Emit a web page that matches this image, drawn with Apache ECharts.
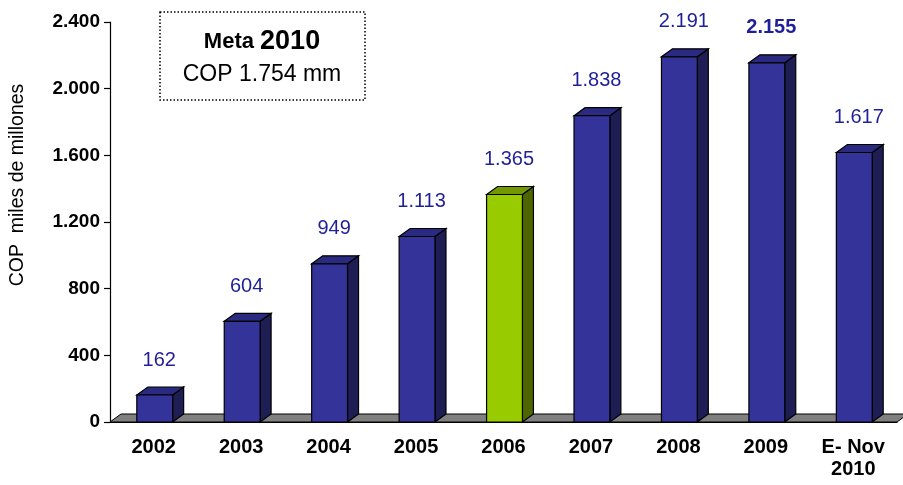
<!DOCTYPE html>
<html>
<head>
<meta charset="utf-8">
<script src="https://cdn.jsdelivr.net/npm/echarts@6/dist/echarts.min.js"></script>
<style>
  html, body { margin: 0; padding: 0; background: #fff; }
  #main { width: 903px; height: 485px; }
</style>
</head>
<body>
<div id="main"></div>
<script>
// datos
var years = ['2002', '2003', '2004', '2005', '2006', '2007', '2008', '2009', 'E- Nov\n2010'];
var values = [162, 604, 949, 1113, 1365, 1838, 2191, 2155, 1617];
var yTicks = [0, 400, 800, 1200, 1600, 2000, 2400];
var greenIdx = 4;   // barra resaltada
var boldIdx = 7;    // etiqueta en negrita

var DX = 11, DY = 8;
var FONT = '"Liberation Sans", Arial, sans-serif';

function miles(v) {
  return String(v).replace(/\B(?=(\d{3})+(?!\d))/g, '.');
}

var myChart = echarts.init(document.getElementById('main'));

function renderFloor(params, api) {
  var cs = params.coordSys;
  var y0 = cs.y + cs.height;
  return {
    type: 'polygon',
    shape: { points: [[cs.x, y0], [cs.x + cs.width, y0], [cs.x + cs.width + DX, y0 - DY], [cs.x + DX, y0 - DY]] },
    style: { fill: '#808080', stroke: '#000', lineWidth: 1 }
  };
}

function renderBar(params, api) {
  var i = params.dataIndex;
  var top = api.coord([api.value(0), api.value(1)]);
  var base = api.coord([api.value(0), 0]);
  var w = api.size([1, 0])[0] * 0.41;
  var x0 = top[0] - w / 2 + 1, x1 = x0 + w;
  var yt = top[1], yb = base[1];
  var green = i === greenIdx;
  var cFront = green ? '#99cc00' : '#333399';
  var cTop = green ? '#739900' : '#2a2a80';
  var cSide = green ? '#4d6600' : '#1e1e55';
  return {
    type: 'group',
    children: [
      { type: 'polygon', shape: { points: [[x1, yt], [x1 + DX, yt - DY], [x1 + DX, yb - DY], [x1, yb]] },
        style: { fill: cSide, stroke: '#000', lineWidth: 1.2 } },
      { type: 'polygon', shape: { points: [[x0, yt], [x0 + DX, yt - DY], [x1 + DX, yt - DY], [x1, yt]] },
        style: { fill: cTop, stroke: '#000', lineWidth: 1.2 } },
      { type: 'rect', shape: { x: x0, y: yt, width: w, height: yb - yt },
        style: { fill: cFront, stroke: '#000', lineWidth: 1.2 } },
      { type: 'text', x: (x0 + x1) / 2 + DX / 2 - 1, y: yt - DY - 27,
        style: { text: miles(api.value(1)), fill: '#1f1f99', font: (i === boldIdx ? 'bold ' : '') + '20px ' + FONT,
          align: 'center', verticalAlign: 'middle' } }
    ]
  };
}

var option = {
  animation: false,
  grid: { left: 110, right: 6, top: 22, bottom: 63 },
  xAxis: {
    type: 'category',
    data: years,
    axisLine: { lineStyle: { color: '#000', width: 1.2 } },
    axisTick: { length: 7, lineStyle: { color: '#000', width: 1.2 } },
    axisLabel: { color: '#000', fontWeight: 'bold', fontSize: 20, fontFamily: FONT, margin: 14, lineHeight: 22 }
  },
  yAxis: {
    type: 'value',
    min: 0, max: yTicks[yTicks.length - 1], interval: yTicks[1] - yTicks[0],
    splitLine: { show: false },
    axisLine: { show: true, lineStyle: { color: '#000', width: 1.2 } },
    axisTick: { show: true, length: 6, lineStyle: { color: '#000', width: 1.2 } },
    axisLabel: { color: '#000', fontWeight: 'bold', fontSize: 19, fontFamily: FONT, margin: 10, formatter: miles }
  },
  graphic: [
    { type: 'rect', shape: { x: 160, y: 12, width: 205, height: 88 },
      style: { fill: '#fff', stroke: '#000', lineWidth: 1.5, lineDash: [1.5, 2] } },
    { type: 'text', x: 262, y: 42,
      style: { text: '{a|Meta }{b|2010}', align: 'center', verticalAlign: 'middle',
        rich: { a: { font: 'bold 22px ' + FONT, fill: '#000' }, b: { font: 'bold 27px ' + FONT, fill: '#000' } } } },
    { type: 'text', x: 262, y: 75,
      style: { text: 'COP 1.754 mm', font: '23px ' + FONT, fill: '#000', align: 'center', verticalAlign: 'middle' } },
    { type: 'text', x: 18, y: 185, rotation: Math.PI / 2,
      style: { text: 'COP  miles de millones', font: '19.5px ' + FONT, fill: '#000', align: 'center', verticalAlign: 'middle' } }
  ],
  series: [
    { type: 'custom', renderItem: renderFloor, data: [[years[0], 0]], silent: true, z: 1 },
    { type: 'custom', renderItem: renderBar, z: 2,
      data: years.map(function (y, i) { return [y, values[i]]; }) }
  ]
};

myChart.setOption(option);
</script>
</body>
</html>
